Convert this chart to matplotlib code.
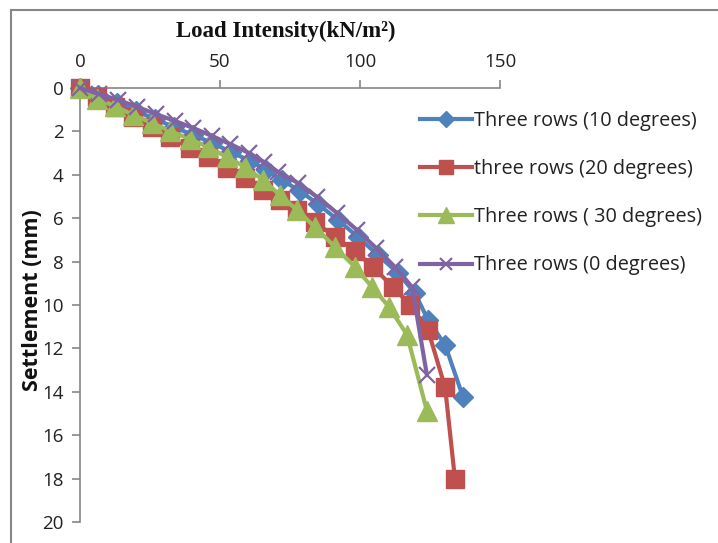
import matplotlib
matplotlib.use("Agg")
import matplotlib.pyplot as plt
from matplotlib.lines import Line2D

# load intensity (kN/m2) and settlement (mm)
load_10 = [0, 6.4, 13.2, 20.0, 26.8, 33.6, 40.4, 47.1, 53.9, 60.7, 66.4, 72.1,
           78.6, 85.0, 92.1, 99.3, 106.4, 113.6, 119.6, 124.3, 130.4, 136.8]
sett_10 = [0, 0.32, 0.69, 1.06, 1.43, 1.80, 2.17, 2.53, 2.95, 3.36, 3.78, 4.24,
           4.75, 5.35, 6.08, 6.87, 7.70, 8.53, 9.45, 10.69, 11.84, 14.24]

load_20 = [0, 6.1, 12.5, 18.9, 25.7, 32.1, 39.3, 45.7, 52.5, 58.9, 65.4, 71.4,
           77.5, 83.9, 91.1, 98.2, 104.6, 111.8, 117.9, 124.3, 130.4, 133.9]
sett_20 = [0, 0.41, 0.88, 1.34, 1.80, 2.26, 2.76, 3.18, 3.69, 4.15, 4.70, 5.16,
           5.62, 6.17, 6.87, 7.51, 8.25, 9.17, 10.0, 11.15, 13.8, 18.0]

load_30 = [0, 6.1, 12.5, 18.9, 25.7, 32.1, 39.3, 45.7, 52.5, 58.9, 65.4, 71.4,
           77.5, 83.9, 91.1, 98.2, 104.3, 110.4, 116.8, 123.9]
sett_30 = [0, 0.51, 0.83, 1.24, 1.61, 1.98, 2.35, 2.72, 3.18, 3.64, 4.24, 4.93,
           5.62, 6.41, 7.33, 8.25, 9.17, 10.09, 11.38, 14.88]

load_0 = [0, 6.8, 13.6, 20.4, 27.1, 33.9, 40.4, 47.1, 53.6, 60.4, 65.7, 70.7,
          77.9, 84.6, 91.8, 98.9, 105.7, 112.5, 118.6, 123.9]
sett_0 = [0, 0.28, 0.55, 0.87, 1.20, 1.52, 1.84, 2.21, 2.58, 3.00, 3.41, 3.87,
          4.38, 5.02, 5.76, 6.54, 7.37, 8.25, 9.17, 13.23]

x_ticks = [0, 50, 100, 150]
y_ticks = [0, 2, 4, 6, 8, 10, 12, 14, 16, 18, 20]

BLUE   = "#4F81BD"
RED    = "#C0504D"
GREEN  = "#9BBB59"
PURPLE = "#8064A2"
AXIS   = "#868686"
TEXT   = "#222222"

LABEL_FONT = ["Open Sans", "DejaVu Sans"]

fig = plt.figure(figsize=(7.18, 5.43), dpi=100)
fig.patch.set_facecolor("white")
ax = fig.add_axes([80 / 718, 1 - 522 / 543, 420 / 718, 434 / 543])

ax.plot(load_10, sett_10, color=BLUE, lw=3, marker="D", ms=10.5,
        label="Three rows (10 degrees)", zorder=3)
ax.plot(load_20, sett_20, color=RED, lw=3, marker="s", ms=13.5,
        label="three rows (20 degrees)", zorder=4)
ax.plot(load_30, sett_30, color=GREEN, lw=3, marker="^", ms=15,
        label="Three rows ( 30 degrees)", zorder=5)
ax.plot(load_0, sett_0, color=PURPLE, lw=3, marker="x", ms=12, mew=1.6,
        label="Three rows (0 degrees)", zorder=6)

ax.set_xlim(0, 150)
ax.set_ylim(20, 0)
ax.xaxis.tick_top()
ax.set_xticks(x_ticks)
ax.set_yticks(y_ticks)
for s in ["right", "bottom"]:
    ax.spines[s].set_visible(False)
for s in ["top", "left"]:
    ax.spines[s].set_color(AXIS)
    ax.spines[s].set_linewidth(1.2)
ax.tick_params(direction="out", length=6, width=1.2, color=AXIS,
               labelsize=13.5, labelcolor=TEXT, pad=6)
for lab in ax.get_xticklabels() + ax.get_yticklabels():
    lab.set_family(LABEL_FONT)
for ln in ax.lines:
    ln.set_clip_on(False)

fig.text(286 / 718, 1 - 31 / 543, "Load Intensity(kN/m²)", ha="center",
         va="center", fontsize=16.5, fontweight="bold",
         family=["Liberation Serif", "DejaVu Serif"], color="#111111")
fig.text(33 / 718, 1 - 300 / 543, "Settlement (mm)", ha="center", va="center",
         rotation=90, fontsize=15.5, fontweight="bold", family=LABEL_FONT,
         color="#111111")

leg = ax.legend(loc="upper left", bbox_to_anchor=(402 / 718, 1 - 93 / 543),
                bbox_transform=fig.transFigure, frameon=False,
                prop={"family": LABEL_FONT, "size": 14.3}, labelspacing=1.42,
                handlelength=2.6, handletextpad=0.15, markerscale=0.75)
for t in leg.get_texts():
    t.set_color(TEXT)

# grey frame of the original chart area (only top and left visible)
fig.add_artist(Line2D([11 / 718, 1], [1 - 10 / 543, 1 - 10 / 543],
                      transform=fig.transFigure, color=AXIS, lw=1.5))
fig.add_artist(Line2D([11 / 718, 11 / 718], [0, 1 - 10 / 543],
                      transform=fig.transFigure, color=AXIS, lw=1.5))

fig.savefig("out.png", dpi=100, facecolor="white")
